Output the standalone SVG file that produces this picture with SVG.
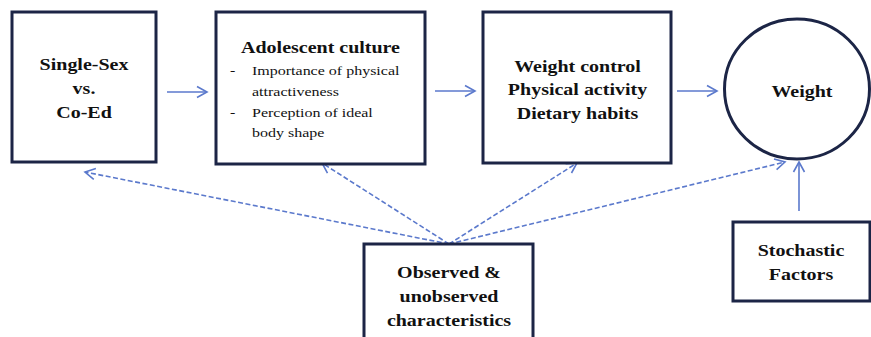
<svg xmlns="http://www.w3.org/2000/svg" width="871" height="337" viewBox="0 0 871 337">
<style>
.box{fill:#fff;stroke:#1c2546;stroke-width:3}
.b{font-weight:bold;font-size:20px;fill:#111;text-anchor:middle}
.r{font-size:16px;fill:#111}
.c{fill:none;stroke:#5b79cc;stroke-width:1.6}
.d{stroke-dasharray:5 2.5}
</style>
<defs>
<marker id="ah" markerUnits="userSpaceOnUse" markerWidth="14" markerHeight="14" refX="11" refY="7" orient="auto" viewBox="0 0 14 14">
<path d="M1,1.5 L11,7 L1,12.5" fill="none" stroke="#5b79cc" stroke-width="1.6"/>
</marker>
</defs>
<rect width="871" height="337" fill="#fff"/>
<g id="connectors">
<line class="c" x1="167" y1="92" x2="207" y2="92" marker-end="url(#ah)"/>
<line class="c" x1="435" y1="91" x2="475" y2="91" marker-end="url(#ah)"/>
<line class="c" x1="677" y1="91" x2="717" y2="91" marker-end="url(#ah)"/>
<line class="c" x1="799" y1="211" x2="799" y2="162" marker-end="url(#ah)"/>
<line class="c d" x1="449" y1="244" x2="85" y2="172" marker-end="url(#ah)"/>
<line class="c d" x1="449" y1="244" x2="322" y2="163" marker-end="url(#ah)"/>
<line class="c d" x1="449" y1="244" x2="577" y2="163" marker-end="url(#ah)"/>
<line class="c d" x1="449" y1="244" x2="785" y2="162" marker-end="url(#ah)"/>
</g>
<g font-family="Liberation Serif, Times New Roman, serif">
<g id="node-school">
<rect class="box" x="12" y="12" width="144" height="150"/>
<text class="b" transform="translate(84,70) scale(1,0.82)">Single-Sex</text>
<text class="b" transform="translate(84,94) scale(1,0.82)">vs.</text>
<text class="b" transform="translate(84,118) scale(1,0.82)">Co-Ed</text>
</g>
<g id="node-culture">
<rect class="box" x="216" y="12" width="209" height="152"/>
<text class="b" transform="translate(320.5,53) scale(1,0.82)">Adolescent culture</text>
<text class="r" transform="translate(230,75) scale(1,0.82)">-</text>
<text class="r" transform="translate(252,75) scale(1,0.82)">Importance of physical</text>
<text class="r" transform="translate(252,96) scale(1,0.82)">attractiveness</text>
<text class="r" transform="translate(230,117) scale(1,0.82)">-</text>
<text class="r" transform="translate(252,117) scale(1,0.82)">Perception of ideal</text>
<text class="r" transform="translate(252,137) scale(1,0.82)">body shape</text>
</g>
<g id="node-behaviour">
<rect class="box" x="483" y="12" width="188" height="151"/>
<text class="b" transform="translate(577.5,72) scale(1,0.82)">Weight control</text>
<text class="b" transform="translate(577.5,95) scale(1,0.82)">Physical activity</text>
<text class="b" transform="translate(577.5,119) scale(1,0.82)">Dietary habits</text>
</g>
<g id="node-weight">
<ellipse cx="797" cy="89" rx="72.5" ry="70" fill="#fff" stroke="#1c2546" stroke-width="3"/>
<text class="b" transform="translate(802,97) scale(1,0.82)">Weight</text>
</g>
<g id="node-stochastic">
<rect class="box" x="733" y="222" width="137" height="79"/>
<text class="b" transform="translate(801,256) scale(1,0.82)">Stochastic</text>
<text class="b" transform="translate(801,280) scale(1,0.82)">Factors</text>
</g>
<g id="node-observed">
<rect class="box" x="364" y="244" width="169" height="110"/>
<text class="b" transform="translate(449,278) scale(1,0.82)">Observed &amp;</text>
<text class="b" transform="translate(449,302) scale(1,0.82)">unobserved</text>
<text class="b" transform="translate(449,326) scale(1,0.82)">characteristics</text>
</g>
</g>
</svg>
